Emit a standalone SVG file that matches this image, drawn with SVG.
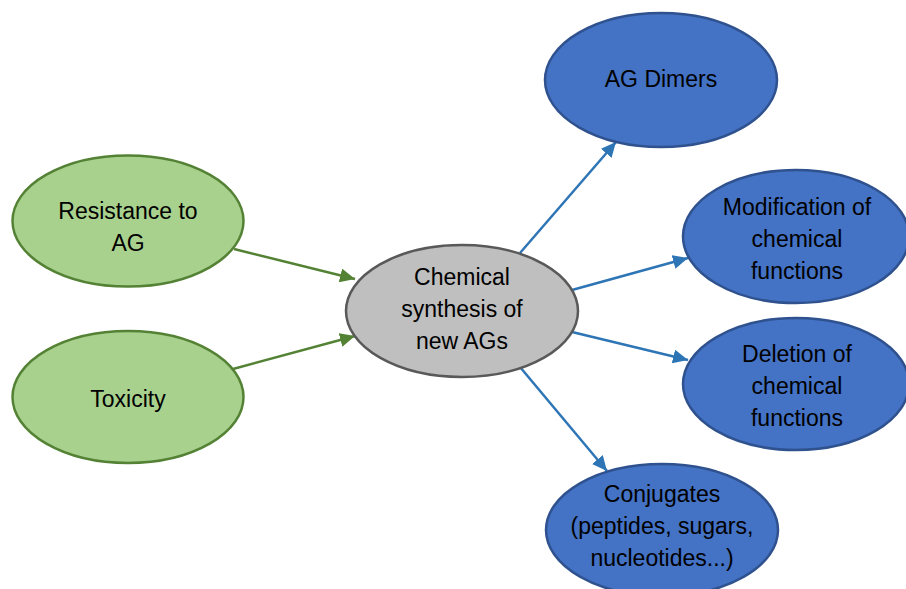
<svg xmlns="http://www.w3.org/2000/svg" width="906" height="589" viewBox="0 0 906 589">
<style>
  .green{fill:#A9D18E;stroke:#548235;stroke-width:2.5}
  .gray{fill:#BFBFBF;stroke:#595959;stroke-width:2.5}
  .blue{fill:#4472C4;stroke:#2F528F;stroke-width:2.5}
  text{font-family:"Liberation Sans",Arial,sans-serif;font-size:23px;fill:#000;text-anchor:middle}
  .gl{stroke:#548235;stroke-width:2.5;fill:none}
  .bl{stroke:#2E75B6;stroke-width:2.5;fill:none}
</style>
<defs>
  <marker id="ag" markerUnits="userSpaceOnUse" markerWidth="16" markerHeight="14" refX="15" refY="7" orient="auto">
    <path d="M0,0 L15,7 L0,14 Z" fill="#548235"/>
  </marker>
  <marker id="ab" markerUnits="userSpaceOnUse" markerWidth="16" markerHeight="14" refX="15" refY="7" orient="auto">
    <path d="M0,0 L15,7 L0,14 Z" fill="#2E75B6"/>
  </marker>
</defs>
<g id="connectors">
  <line class="gl" x1="234" y1="249" x2="355" y2="279" marker-end="url(#ag)"/>
  <line class="gl" x1="233" y1="369" x2="355" y2="336" marker-end="url(#ag)"/>
  <line class="bl" x1="520" y1="253" x2="616" y2="142" marker-end="url(#ab)"/>
  <line class="bl" x1="572" y1="290" x2="688" y2="258" marker-end="url(#ab)"/>
  <line class="bl" x1="572" y1="332" x2="688" y2="360" marker-end="url(#ab)"/>
  <line class="bl" x1="520" y1="367" x2="607" y2="471" marker-end="url(#ab)"/>
</g>
<g id="resistance">
  <ellipse class="green" cx="128" cy="221" rx="115.5" ry="65.5"/>
  <text x="128" y="219">Resistance to</text>
  <text x="128" y="251">AG</text>
</g>
<g id="toxicity">
  <ellipse class="green" cx="128" cy="397" rx="115.5" ry="66"/>
  <text x="128" y="407">Toxicity</text>
</g>
<g id="central">
  <ellipse class="gray" cx="462" cy="311" rx="116" ry="66"/>
  <text x="462" y="285">Chemical</text>
  <text x="462" y="317">synthesis of</text>
  <text x="462" y="349">new AGs</text>
</g>
<g id="dimers">
  <ellipse class="blue" cx="661" cy="80" rx="116" ry="67"/>
  <text x="661" y="87">AG Dimers</text>
</g>
<g id="modification">
  <ellipse class="blue" cx="796" cy="236.5" rx="113" ry="66.5"/>
  <text x="797" y="215">Modification of</text>
  <text x="797" y="247">chemical</text>
  <text x="797" y="279">functions</text>
</g>
<g id="deletion">
  <ellipse class="blue" cx="796" cy="384" rx="113" ry="66"/>
  <text x="797" y="362">Deletion of</text>
  <text x="797" y="394">chemical</text>
  <text x="797" y="426">functions</text>
</g>
<g id="conjugates">
  <ellipse class="blue" cx="662" cy="530" rx="116" ry="66"/>
  <text x="662" y="502">Conjugates</text>
  <text x="662" y="534">(peptides, sugars,</text>
  <text x="662" y="566">nucleotides...)</text>
</g>
</svg>
